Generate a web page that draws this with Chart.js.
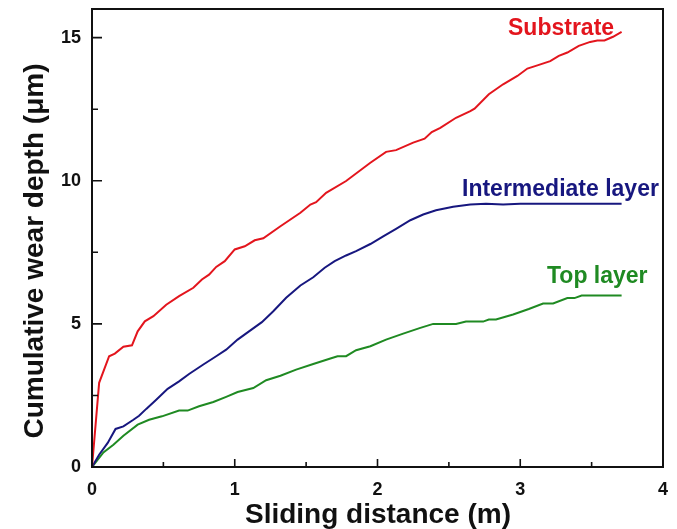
<!DOCTYPE html>
<html>
<head>
<meta charset="utf-8">
<script src="https://cdn.jsdelivr.net/npm/chart.js@4.4.1/dist/chart.umd.min.js"></script>
<style>
	html, body { margin: 0; padding: 0; background: #fff; }
	#wrap { width: 677px; height: 529px; position: relative; }
</style>
</head>
<body>
<div id="wrap"><canvas id="wear-chart"></canvas></div>
<script>
// Data
const substrateX = [0, 0.05, 0.12, 0.16, 0.22, 0.28, 0.32, 0.37, 0.43, 0.52, 0.61, 0.71, 0.77, 0.82, 0.87, 0.93, 1.0, 1.07, 1.14, 1.2, 1.32, 1.46, 1.53, 1.57, 1.64, 1.78, 1.95, 2.06, 2.13, 2.25, 2.33, 2.38, 2.44, 2.55, 2.65, 2.68, 2.78, 2.88, 2.98, 3.05, 3.12, 3.21, 3.27, 3.33, 3.41, 3.49, 3.54, 3.59, 3.65, 3.71];
const substrateY = [0, 2.94, 3.87, 3.96, 4.2, 4.25, 4.74, 5.09, 5.27, 5.67, 5.97, 6.26, 6.55, 6.72, 6.99, 7.19, 7.6, 7.71, 7.92, 7.99, 8.41, 8.88, 9.17, 9.25, 9.58, 9.99, 10.63, 11.01, 11.07, 11.33, 11.47, 11.7, 11.85, 12.2, 12.43, 12.52, 13.02, 13.37, 13.66, 13.92, 14.03, 14.18, 14.36, 14.48, 14.71, 14.85, 14.9, 14.9, 15.03, 15.2];

const intermediateX = [0, 0.05, 0.11, 0.165, 0.22, 0.29, 0.33, 0.38, 0.45, 0.53, 0.61, 0.68, 0.78, 0.87, 0.94, 1.02, 1.1, 1.19, 1.27, 1.36, 1.46, 1.55, 1.63, 1.7, 1.78, 1.85, 1.95, 2.04, 2.13, 2.23, 2.32, 2.41, 2.53, 2.65, 2.76, 2.88, 3.0, 3.12, 3.35, 3.71];
const intermediateY = [0, 0.43, 0.84, 1.33, 1.42, 1.65, 1.79, 2.03, 2.35, 2.73, 2.99, 3.25, 3.58, 3.87, 4.1, 4.45, 4.74, 5.06, 5.44, 5.91, 6.34, 6.63, 6.96, 7.19, 7.39, 7.54, 7.79, 8.06, 8.32, 8.62, 8.82, 8.97, 9.09, 9.17, 9.2, 9.17, 9.2, 9.2, 9.2, 9.2];

const topLayerX = [0, 0.08, 0.15, 0.22, 0.32, 0.4, 0.49, 0.61, 0.67, 0.75, 0.85, 0.94, 1.02, 1.13, 1.22, 1.32, 1.43, 1.55, 1.67, 1.72, 1.78, 1.85, 1.95, 2.06, 2.18, 2.3, 2.39, 2.55, 2.62, 2.74, 2.78, 2.83, 2.95, 3.06, 3.16, 3.23, 3.33, 3.38, 3.43, 3.71];
const topLayerY = [0, 0.51, 0.78, 1.09, 1.48, 1.65, 1.77, 1.97, 1.97, 2.12, 2.27, 2.45, 2.62, 2.76, 3.03, 3.19, 3.4, 3.6, 3.79, 3.87, 3.87, 4.08, 4.22, 4.45, 4.66, 4.86, 5.0, 5.0, 5.08, 5.08, 5.15, 5.15, 5.33, 5.52, 5.71, 5.71, 5.9, 5.9, 5.99, 5.99];

const xTicks = [0, 1, 2, 3, 4];
const xMinorTicks = [0.5, 1.5, 2.5, 3.5];
const yTicks = [0, 5, 10, 15];
const yMinorTicks = [2.5, 7.5, 12.5];

const seriesNames = ["Substrate", "Intermediate layer", "Top layer"];
const seriesColors = ["#e3151d", "#17177f", "#1f8a22"];

const fontFamily = "'Liberation Sans', Arial, sans-serif";

function toPoints(xs, ys) {
	return xs.map((x, i) => ({ x, y: ys[i] }));
}

// frame, inward ticks, titles and series labels
const decorations = {
	id: "decorations",
	afterDraw(chart) {
		const { ctx, chartArea, scales } = chart;
		const { left, right, top, bottom } = chartArea;
		ctx.save();
		ctx.strokeStyle = "#111";
		ctx.lineWidth = 2;
		ctx.strokeRect(left, top, right - left, bottom - top);

		ctx.lineWidth = 1.6;
		ctx.beginPath();
		xTicks.forEach((v) => {
			const px = scales.x.getPixelForValue(v);
			ctx.moveTo(px, bottom);
			ctx.lineTo(px, bottom - 8);
		});
		xMinorTicks.forEach((v) => {
			const px = scales.x.getPixelForValue(v);
			ctx.moveTo(px, bottom);
			ctx.lineTo(px, bottom - 5);
		});
		yTicks.forEach((v) => {
			const py = scales.y.getPixelForValue(v);
			ctx.moveTo(left, py);
			ctx.lineTo(left + 10, py);
		});
		yMinorTicks.forEach((v) => {
			const py = scales.y.getPixelForValue(v);
			ctx.moveTo(left, py);
			ctx.lineTo(left + 6, py);
		});
		ctx.stroke();

		ctx.fillStyle = "#111";
		ctx.font = `bold 28px ${fontFamily}`;
		ctx.textAlign = "center";
		ctx.textBaseline = "alphabetic";
		ctx.fillText("Sliding distance (m)", 378, 523);

		ctx.save();
		ctx.translate(43, 251);
		ctx.rotate(-Math.PI / 2);
		ctx.fillText("Cumulative wear depth (μm)", 0, 0);
		ctx.restore();

		ctx.font = `bold 23px ${fontFamily}`;
		ctx.textAlign = "left";
		ctx.fillStyle = seriesColors[0];
		ctx.fillText(seriesNames[0], 508, 35);
		ctx.fillStyle = seriesColors[1];
		ctx.fillText(seriesNames[1], 462, 196);
		ctx.fillStyle = seriesColors[2];
		ctx.fillText(seriesNames[2], 547, 283);
		ctx.restore();
	}
};

const datasets = [
	toPoints(substrateX, substrateY),
	toPoints(intermediateX, intermediateY),
	toPoints(topLayerX, topLayerY)
].map((data, i) => ({
	label: seriesNames[i],
	data,
	borderColor: seriesColors[i],
	backgroundColor: seriesColors[i],
	borderWidth: 2,
	pointRadius: 0,
	tension: 0,
	showLine: true,
	fill: false
}));

new Chart(document.getElementById("wear-chart"), {
	type: "scatter",
	data: { datasets },
	options: {
		responsive: true,
		maintainAspectRatio: false,
		animation: false,
		devicePixelRatio: 1,
		layout: { padding: { top: 9, right: 14, left: 0, bottom: 0 } },
		plugins: {
			legend: { display: false },
			tooltip: { enabled: false }
		},
		scales: {
			x: {
				type: "linear",
				min: 0,
				max: 4,
				grid: { display: false, drawTicks: false },
				border: { display: false },
				afterFit: (scale) => {
					scale.height = 62;
					scale.paddingLeft = 0;
					scale.paddingRight = 0;
				},
				afterBuildTicks: (scale) => { scale.ticks = xTicks.map((value) => ({ value })); },
				ticks: {
					color: "#111",
					padding: 12,
					maxRotation: 0,
					font: { family: fontFamily, size: 18, weight: "bold" },
					callback: (v) => String(v)
				}
			},
			y: {
				type: "linear",
				min: 0,
				max: 16,
				grid: { display: false, drawTicks: false },
				border: { display: false },
				afterFit: (scale) => {
					scale.width = 92;
					scale.paddingTop = 0;
					scale.paddingBottom = 0;
				},
				afterBuildTicks: (scale) => { scale.ticks = yTicks.map((value) => ({ value })); },
				ticks: {
					color: "#111",
					padding: 11,
					font: { family: fontFamily, size: 18, weight: "bold" },
					callback: (v) => String(v)
				}
			}
		}
	},
	plugins: [decorations]
});
</script>
</body>
</html>
